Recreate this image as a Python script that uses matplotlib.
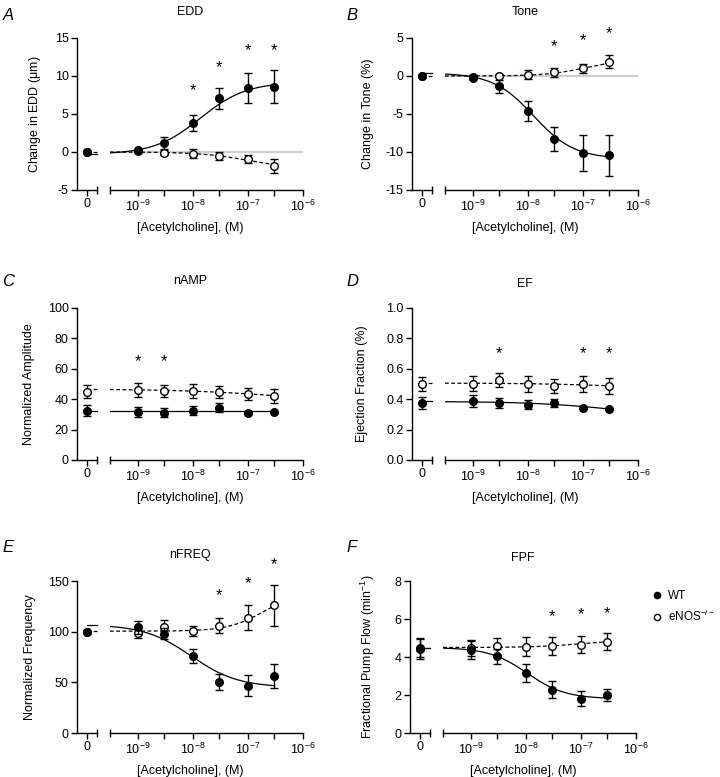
import numpy as np
import matplotlib
matplotlib.use('Agg')
import matplotlib.pyplot as plt
from matplotlib.lines import Line2D

plt.rcParams['font.family'] = ['Liberation Sans', 'DejaVu Sans']
plt.rcParams['mathtext.fontset'] = 'custom'
plt.rcParams['mathtext.rm'] = 'Liberation Sans'
plt.rcParams['mathtext.it'] = 'Liberation Sans:italic'
plt.rcParams['axes.unicode_minus'] = False

# concentraciones de acetilcolina (M); el primer punto de cada serie es el vehículo (0)
conc = [1e-9, 3e-9, 1e-8, 3e-8, 1e-7, 3e-7]

# === A: EDD ===
edd_wt = [0.0, 0.22, 1.2, 3.8, 7.05, 8.45, 8.6]
edd_wt_err = [0.1, 0.15, 0.8, 1.1, 1.33, 1.95, 2.2]
edd_ko = [0.0, 0.15, -0.1, -0.2, -0.53, -0.93, -1.85]
edd_ko_err = [0.1, 0.2, 0.3, 0.55, 0.5, 0.55, 0.95]
edd_star_x = [1e-8, 3e-8, 1e-7, 3e-7]
edd_star_y = [8.1, 11.1, 13.3, 13.4]
# ajuste sigmoidal: [inicio, fin, logEC50, Hill]
edd_fit_wt = [-0.3, 9.2, -7.866, 1.04]
edd_fit_ko = [0.0, -2.2, -7.0, 1.0]

# === B: Tone ===
tone_wt = [0.0, -0.26, -1.37, -4.6, -8.3, -10.1, -10.4]
tone_wt_err = [0.1, 0.2, 0.9, 1.35, 1.6, 2.4, 2.7]
tone_ko = [0.0, -0.1, 0.04, 0.15, 0.5, 1.0, 1.9]
tone_ko_err = [0.1, 0.2, 0.2, 0.6, 0.6, 0.6, 0.9]
tone_star_x = [3e-8, 1e-7, 3e-7]
tone_star_y = [3.85, 4.7, 5.6]
tone_fit_wt = [0.4, -10.9, -7.897, 1.18]
tone_fit_ko = [0.0, 2.2, -6.95, 1.2]

# === C: nAMP ===
amp_wt = [32.5, 31.5, 31.0, 32.5, 34.5, 31.0, 31.8]
amp_wt_err = [3.4, 3.5, 3.0, 3.0, 3.0, 0.5, 0.5]
amp_ko = [45.0, 46.0, 45.6, 45.4, 44.5, 43.5, 42.2]
amp_ko_err = [4.4, 4.4, 4.0, 4.4, 4.0, 4.0, 4.4]
amp_star_x = [1e-9, 3e-9]
amp_star_y = [65, 65]
amp_fit_wt = [32.2, 32.2, -8.0, 1.0]
amp_fit_ko = [46.6, 38.0, -6.5, 0.5]

# === D: EF ===
ef_wt = [0.375, 0.388, 0.376, 0.365, 0.375, 0.34, 0.337]
ef_wt_err = [0.04, 0.04, 0.035, 0.03, 0.027, 0.005, 0.005]
ef_ko = [0.5, 0.502, 0.525, 0.5, 0.487, 0.5, 0.487]
ef_ko_err = [0.045, 0.05, 0.048, 0.05, 0.045, 0.05, 0.055]
ef_star_x = [3e-9, 1e-7, 3e-7]
ef_star_y = [0.70, 0.70, 0.70]
ef_fit_wt = [0.385, 0.285, -6.5, 0.6]
ef_fit_ko = [0.506, 0.47, -6.5, 0.6]

# === E: nFREQ ===
freq_wt = [100, 104.3, 98, 75.9, 50.5, 46.5, 56.4]
freq_wt_err = [1, 6.6, 5.5, 7, 7.6, 10.4, 11.6]
freq_ko = [100, 99, 104.6, 100.7, 106, 113.9, 126]
freq_ko_err = [1, 5, 7, 5.3, 7.3, 12, 20]
freq_star_x = [3e-8, 1e-7, 3e-7]
freq_star_y = [135.3, 147.9, 166.5]
freq_fit_wt = [107, 45, -8.034, 1.02]
freq_fit_ko = [100.5, 140, -6.7, 1.3]

# === F: FPF ===
fpf_wt = [4.44, 4.35, 4.04, 3.16, 2.28, 1.8, 2.0]
fpf_wt_err = [0.53, 0.47, 0.4, 0.45, 0.46, 0.4, 0.33]
fpf_ko = [4.5, 4.47, 4.56, 4.53, 4.56, 4.65, 4.8]
fpf_ko_err = [0.5, 0.4, 0.44, 0.5, 0.48, 0.44, 0.44]
fpf_star_x = [3e-8, 1e-7, 3e-7]
fpf_star_y = [6.14, 6.23, 6.3]
fpf_fit_wt = [4.5, 1.8, -7.98, 1.25]
fpf_fit_ko = [4.5, 4.9, -7.0, 1.0]

W, H = 720, 777
fig = plt.figure(figsize=(W / 100, H / 100), dpi=100)

LOG_MIN = -9.509
FS = 9


def hill(x, p):
    start, end, logec, h = p
    return start + (end - start) / (1 + 10 ** ((logec - np.log10(x)) * h))


def panel(left, top, bottom, letter, title, ylabel, ylim, yticks, ytlabels,
          wt, wt_err, ko, ko_err, fit_wt, fit_ko, star_x, star_y,
          title_y, letter_y, letter_x, ylab_x, grey=False):
    h = bottom - top
    ax0 = fig.add_axes([left / W, 1 - bottom / H, 20 / W, h / H])
    ax = fig.add_axes([(left + 33) / W, 1 - bottom / H, 193 / W, h / H])

    for a in (ax0, ax):
        a.set_ylim(*ylim)
        a.patch.set_alpha(0)
        for s in ('top', 'right'):
            a.spines[s].set_visible(False)
        a.spines['bottom'].set_linewidth(1.0)
        a.spines['left'].set_linewidth(1.0)
        a.tick_params(axis='both', which='both', direction='out', width=1.0,
                      labelsize=FS, pad=2)
    ax.spines['left'].set_visible(False)
    ax.tick_params(axis='y', left=False, labelleft=False)

    # segmento del cero
    ax0.set_xlim(-1, 1)
    ax0.set_xticks([0])
    ax0.set_xticklabels(['0'])
    ax0.set_yticks(yticks)
    ax0.set_yticklabels(ytlabels)
    ax0.tick_params(axis='both', length=4)

    # segmento logarítmico
    ax.set_xscale('log')
    ax.set_xlim(10 ** LOG_MIN, 1e-6)
    ax.set_xticks([1e-9, 1e-8, 1e-7, 1e-6])
    ax.set_xticklabels([r'10$^{-9}$', r'10$^{-8}$', r'10$^{-7}$', r'10$^{-6}$'])
    ax.set_xticks([3e-9, 3e-8, 3e-7], minor=True)
    ax.set_xticklabels([], minor=True)
    ax.tick_params(axis='x', which='both', length=4)

    # marcas del corte
    for a, xx in ((ax0, 1), (ax, 0)):
        a.plot([xx], [0], transform=a.transAxes, marker='|', ms=6, mew=1.0,
               color='k', clip_on=False)

    if grey:
        ax.axhline(0, color='#c8d1d1', lw=1.6, zorder=0)

    # curvas de ajuste
    xs = np.logspace(LOG_MIN, np.log10(3e-7), 200)
    ax.plot(xs, hill(xs, fit_ko), color='k', lw=0.9, ls=(0, (3, 2)), zorder=2)
    ax.plot(xs, hill(xs, fit_wt), color='k', lw=0.9, zorder=2)
    ax0.plot([0, 1], [fit_ko[0]] * 2, color='k', lw=0.9, ls=(0, (3, 2)),
             zorder=2, clip_on=False)
    ax0.plot([0, 1], [fit_wt[0]] * 2, color='k', lw=0.9, zorder=2, clip_on=False)

    # puntos
    kw = dict(fmt='o', ms=5.5, mec='k', mew=1.0, ecolor='k', elinewidth=1.0,
              capsize=2.8, capthick=1.0, clip_on=False)
    ax0.errorbar([0], ko[:1], yerr=ko_err[:1], mfc='white', zorder=3, **kw)
    ax0.errorbar([0], wt[:1], yerr=wt_err[:1], mfc='k', zorder=4, **kw)
    ax.errorbar(conc, ko[1:], yerr=ko_err[1:], mfc='white', zorder=3, **kw)
    ax.errorbar(conc, wt[1:], yerr=wt_err[1:], mfc='k', zorder=4, **kw)

    for sx, sy in zip(star_x, star_y):
        ax.text(sx, sy, '*', ha='center', va='center', fontsize=12,
                clip_on=False)

    ax0.set_ylabel(ylabel, fontsize=FS)
    ax0.yaxis.set_label_coords((ylab_x - left) / 20, 0.5)

    cx = (left + left + 226) / 2 / W
    fig.text(cx, 1 - title_y / H, title, ha='center', va='center', fontsize=FS)
    fig.text(cx, 1 - (bottom + 38) / H, '[Acetylcholine], (M)', ha='center',
             va='center', fontsize=FS)
    fig.text(letter_x / W, 1 - letter_y / H, letter, ha='center', va='center',
             fontsize=12, style='italic')
    return ax


panel(77, 38, 190, 'A', 'EDD', r'Change in EDD ($\mathregular{\mu}$m)', (-5, 15),
      [-5, 0, 5, 10, 15], ['-5', '0', '5', '10', '15'],
      edd_wt, edd_wt_err, edd_ko, edd_ko_err, edd_fit_wt, edd_fit_ko,
      edd_star_x, edd_star_y, 12, 15, 8, 43, grey=True)
panel(412, 38, 190, 'B', 'Tone', 'Change in Tone (%)', (-15, 5),
      [-15, -10, -5, 0, 5], ['-15', '-10', '-5', '0', '5'],
      tone_wt, tone_wt_err, tone_ko, tone_ko_err, tone_fit_wt, tone_fit_ko,
      tone_star_x, tone_star_y, 12, 15, 352, 374, grey=True)
panel(77, 308, 460, 'C', 'nAMP', 'Normalized Amplitude', (0, 100),
      [0, 20, 40, 60, 80, 100], ['0', '20', '40', '60', '80', '100'],
      amp_wt, amp_wt_err, amp_ko, amp_ko_err, amp_fit_wt, amp_fit_ko,
      amp_star_x, amp_star_y, 281, 281, 8, 35)
panel(412, 308, 460, 'D', 'EF', 'Ejection Fraction (%)', (0, 1),
      [0, 0.2, 0.4, 0.6, 0.8, 1.0], ['0.0', '0.2', '0.4', '0.6', '0.8', '1.0'],
      ef_wt, ef_wt_err, ef_ko, ef_ko_err, ef_fit_wt, ef_fit_ko,
      ef_star_x, ef_star_y, 284, 281, 352, 368)
panel(77, 581, 733, 'E', 'nFREQ', 'Normalized Frequency', (0, 150),
      [0, 50, 100, 150], ['0', '50', '100', '150'],
      freq_wt, freq_wt_err, freq_ko, freq_ko_err, freq_fit_wt, freq_fit_ko,
      freq_star_x, freq_star_y, 555, 548, 8, 36)
panel(410, 581, 733, 'F', 'FPF', r'Fractional Pump Flow (min$^{-1}$)', (0, 8),
      [0, 2, 4, 6, 8], ['0', '2', '4', '6', '8'],
      fpf_wt, fpf_wt_err, fpf_ko, fpf_ko_err, fpf_fit_wt, fpf_fit_ko,
      fpf_star_x, fpf_star_y, 558, 548, 352, 377)

# leyenda
handles = [Line2D([], [], ls='none', marker='o', ms=4.5, mfc='k', mec='k'),
           Line2D([], [], ls='none', marker='o', ms=4.5, mfc='white', mec='k', mew=1.0)]
fig.legend(handles, ['WT', r'eNOS$^{-/-}$'], loc='upper left',
           bbox_to_anchor=(651 / W, 1 - 590 / H), frameon=False, fontsize=8.5,
           handletextpad=0.4, handlelength=1.0, labelspacing=0.55,
           borderaxespad=0, borderpad=0)

fig.savefig('out.png', dpi=100)
